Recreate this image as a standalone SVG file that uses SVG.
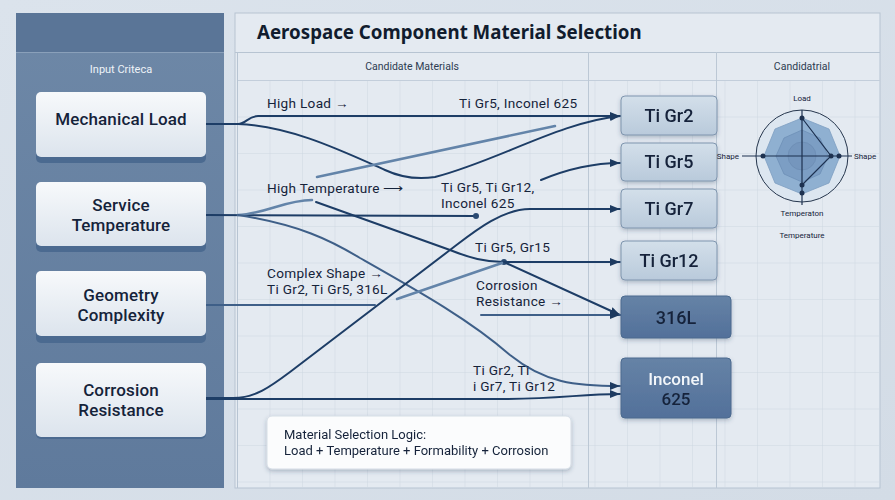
<svg xmlns="http://www.w3.org/2000/svg" width="895" height="500" viewBox="0 0 895 500">
<defs>
<linearGradient id="bg" x1="0" y1="0" x2="1" y2="1"><stop offset="0" stop-color="#dbe3ec"/><stop offset="1" stop-color="#d3dce6"/></linearGradient>
<linearGradient id="lnode" x1="0" y1="0" x2="0" y2="1"><stop offset="0" stop-color="#f7f9fb"/><stop offset="1" stop-color="#dce4ed"/></linearGradient>
<linearGradient id="rnode" x1="0" y1="0" x2="0" y2="1"><stop offset="0" stop-color="#d3dfea"/><stop offset="1" stop-color="#b9cadb"/></linearGradient>
<linearGradient id="dnode" x1="0" y1="0" x2="0" y2="1"><stop offset="0" stop-color="#6683a6"/><stop offset="1" stop-color="#52709a"/></linearGradient>
<linearGradient id="lpanel" x1="0" y1="0" x2="0" y2="1"><stop offset="0" stop-color="#6e88a7"/><stop offset="1" stop-color="#5f7a9c"/></linearGradient>
<pattern id="grid" x="237" y="80" width="32.5" height="36.5" patternUnits="userSpaceOnUse"><path d="M0,0 V36.5 M0,0 H32.5" fill="none" stroke="#cdd7e2" stroke-width="1"/></pattern>
<filter id="sh" x="-10%" y="-10%" width="120%" height="140%"><feDropShadow dx="0" dy="2" stdDeviation="2" flood-color="#2a4060" flood-opacity="0.3"/></filter>
<marker id="ar" markerUnits="userSpaceOnUse" markerWidth="10" markerHeight="10" refX="10" refY="5" orient="auto"><path d="M0,1 L10,5 L0,9 z" fill="#1d3a60"/></marker>
</defs>
<style>
.t{font-family:Roboto,"Noto Sans",sans-serif;fill:#15233a}
.lbl{font-size:13.6px;letter-spacing:0.3px}
.ln{font-size:17px;text-anchor:middle;font-weight:500;letter-spacing:0.15px}
.rn{font-size:18px;text-anchor:middle;font-weight:500}
.c{fill:none;stroke-linecap:round}
.dk{stroke:#1d3d66;stroke-width:2}
.md{stroke:#3e5f88;stroke-width:2}
.lt{stroke:#6384a9;stroke-width:2.5}
.rd{font-size:8px;text-anchor:middle}
</style>
<rect width="895" height="500" fill="url(#bg)"/>
<!-- left panel -->
<rect x="16" y="13" width="208" height="475" fill="url(#lpanel)"/>
<rect x="16" y="13" width="208" height="39" fill="#5a7597"/>
<line x1="16" y1="52.5" x2="224" y2="52.5" stroke="#8aa0ba" stroke-width="1"/>
<text class="t" x="121" y="73" font-size="11" text-anchor="middle" style="fill:#eef3f8">Input Criteca</text>
<!-- main panel -->
<rect x="235" y="13" width="645" height="475" fill="#e4eaf1" stroke="#b7c4d2"/>
<rect x="237" y="80" width="643" height="408" fill="url(#grid)"/>
<line x1="235" y1="52.5" x2="880" y2="52.5" stroke="#b7c4d2"/>
<line x1="237" y1="80.5" x2="880" y2="80.5" stroke="#c3cedb"/>
<line x1="237.5" y1="52" x2="237.5" y2="488" stroke="#b7c4d2"/>
<line x1="588.5" y1="52" x2="588.5" y2="488" stroke="#bcc8d5"/>
<line x1="716.5" y1="52" x2="716.5" y2="488" stroke="#bcc8d5"/>
<text x="257" y="39" font-family="'Noto Sans',sans-serif" font-size="18.7" font-weight="700" fill="#111c2e">Aerospace Component Material Selection</text>
<text class="t" x="412" y="70" font-size="10.5" text-anchor="middle" style="fill:#2d3c52">Candidate Materials</text>
<text class="t" x="802" y="70" font-size="10.5" text-anchor="middle" style="fill:#2d3c52">Candidatrial</text>
<!-- connectors -->
<g id="connectors">
<path class="c dk" d="M206,124 L238,124 C246,124 248,116 258,116 L620,116" marker-end="url(#ar)"/>
<path class="c dk" d="M238,124 C290,126 340,150 385,170 C400,177 415,180 435,177 C495,162 560,122 620,116" marker-end="url(#ar)"/>
<path class="c lt" d="M317,177 L555,126"/>
<path class="c dk" d="M541,180 C565,170 590,163 620,163" marker-end="url(#ar)"/>
<path class="c dk" d="M206,215 L476,216"/>
<circle cx="476" cy="216" r="3" fill="#2a4a72"/>
<path class="c lt" d="M238,215 C265,214 285,200 312,200"/>
<path class="c dk" d="M316,202 L450,250 C470,258 485,262 504,262"/>
<circle cx="504" cy="262" r="3" fill="#2a4a72"/>
<path class="c dk" d="M504,262 L620,262" marker-end="url(#ar)"/>
<path class="c dk" d="M506,263 L620,315" marker-end="url(#ar)"/>
<path class="c md" d="M238,215 C300,225 330,240 360,258 C420,292 470,320 510,355 C545,383 575,386 620,386" marker-end="url(#ar)"/>
<path class="c md" d="M206,305 L375,305"/>
<path class="c lt" d="M397,299 L502,263"/>
<path class="c dk" d="M206,398 L233,398 C255,398 270,387 290,372 L450,250 C470,235 500,209 530,209 L620,209" marker-end="url(#ar)"/>
<path class="c md" d="M481,315 L620,315" marker-end="url(#ar)"/>
<path class="c dk" d="M206,399 L500,399 C560,399 580,394 620,394" marker-end="url(#ar)"/>
</g>
<!-- connector labels -->
<text class="t lbl" x="267" y="108">High Load →</text>
<text class="t lbl" x="459" y="108">Ti Gr5, Inconel 625</text>
<text class="t lbl" x="267" y="193">High Temperature ⟶</text>
<text class="t lbl" x="441" y="192"><tspan x="441">Ti Gr5, Ti Gr12,</tspan><tspan x="441" dy="16">Inconel 625</tspan></text>
<text class="t lbl" x="475" y="252">Ti Gr5, Gr15</text>
<text class="t lbl" x="267" y="278"><tspan x="267">Complex Shape →</tspan><tspan x="267" dy="16">Ti Gr2, Ti Gr5, 316L</tspan></text>
<text class="t lbl" x="476" y="290"><tspan x="476">Corrosion</tspan><tspan x="476" dy="16">Resistance →</tspan></text>
<text class="t lbl" x="473" y="375"><tspan x="473">Ti Gr2, Ti</tspan><tspan x="473" dy="16">i Gr7, Ti Gr12</tspan></text>
<!-- left nodes -->
<g id="n-mech"><rect x="36" y="97" width="170" height="66" rx="5" fill="#4b6a90"/><rect x="36" y="92" width="170" height="65" rx="5" fill="url(#lnode)"/><text class="t ln" x="121" y="125">Mechanical Load</text></g>
<g id="n-temp"><rect x="36" y="187" width="170" height="65" rx="5" fill="#4b6a90"/><rect x="36" y="182" width="170" height="64" rx="5" fill="url(#lnode)"/><text class="t ln" x="121" y="211"><tspan x="121">Service</tspan><tspan x="121" dy="20">Temperature</tspan></text></g>
<g id="n-geom"><rect x="36" y="276" width="170" height="67" rx="5" fill="#4b6a90"/><rect x="36" y="271" width="170" height="65" rx="5" fill="url(#lnode)"/><text class="t ln" x="121" y="301"><tspan x="121">Geometry</tspan><tspan x="121" dy="20">Complexity</tspan></text></g>
<g id="n-corr"><rect x="36" y="366" width="170" height="73" rx="5" fill="#4b6a90"/><rect x="36" y="363" width="170" height="74" rx="5" fill="url(#lnode)"/><text class="t ln" x="121" y="396"><tspan x="121">Corrosion</tspan><tspan x="121" dy="20">Resistance</tspan></text></g>
<!-- right nodes -->
<g id="n-gr2" filter="url(#sh)"><rect x="621" y="96" width="96" height="39" rx="4" fill="url(#rnode)" stroke="#7f95ae"/><text class="t rn" x="669" y="122">Ti Gr2</text></g>
<g id="n-gr5" filter="url(#sh)"><rect x="621" y="143" width="96" height="38" rx="4" fill="url(#rnode)" stroke="#7f95ae"/><text class="t rn" x="669" y="168">Ti Gr5</text></g>
<g id="n-gr7" filter="url(#sh)"><rect x="621" y="189" width="96" height="39" rx="4" fill="url(#rnode)" stroke="#7f95ae"/><text class="t rn" x="669" y="215">Ti Gr7</text></g>
<g id="n-gr12" filter="url(#sh)"><rect x="621" y="241" width="96" height="39" rx="4" fill="url(#rnode)" stroke="#7f95ae"/><text class="t rn" x="669" y="267">Ti Gr12</text></g>
<g id="n-316l" filter="url(#sh)"><rect x="621" y="296" width="110" height="42" rx="4" fill="url(#dnode)" stroke="#4c6a8f"/><text class="t rn" x="676" y="324">316L</text></g>
<g id="n-inc" filter="url(#sh)"><rect x="621" y="358" width="110" height="60" rx="4" fill="url(#dnode)" stroke="#4c6a8f"/><text class="t rn" x="676" y="385" style="font-size:17px"><tspan x="676" style="fill:#f2f6fa">Inconel</tspan><tspan x="676" dy="20">625</tspan></text></g>
<!-- legend -->
<g id="legend" filter="url(#sh)"><rect x="267" y="416" width="304" height="53" rx="5" fill="#fbfcfd" stroke="#d5dde6"/><text class="t" x="284" y="439" font-size="13"><tspan x="284">Material Selection Logic:</tspan><tspan x="284" dy="16">Load + Temperature + Formability + Corrosion</tspan></text></g>
<!-- radar -->
<g id="radar">
<circle cx="802" cy="156" r="46" fill="#dce6f0" stroke="#26364d" stroke-width="1"/>
<polygon points="802,118 829,129 840,156 829,183 802,194 775,183 764,156 775,129" fill="#8fb0d1" stroke="#7d9ec2" stroke-width="0.8"/>
<polygon points="802,130 820,138 828,156 820,174 802,182 784,174 776,156 784,138" fill="#7c9ec4" stroke="#6d8fb6" stroke-width="0.8"/>
<circle cx="802" cy="156" r="14" fill="#7596bd" stroke="#6a8ab0" stroke-width="0.6"/>
<line x1="742" y1="156" x2="852" y2="156" stroke="#1d3150" stroke-width="1.2"/>
<line x1="802" y1="110" x2="802" y2="205" stroke="#1d3150" stroke-width="1.2"/>
<polyline points="802,118 831,156 802,185" fill="none" stroke="#1d3150" stroke-width="1.2"/>
<g fill="#1d3150"><circle cx="802" cy="118" r="2.5"/><circle cx="831" cy="156" r="2.5"/><circle cx="839" cy="156" r="2.5"/><circle cx="802" cy="185" r="2.5"/><circle cx="802" cy="193" r="2.5"/><circle cx="763" cy="156" r="2.5"/></g>
<text class="t rd" x="802" y="101">Load</text>
<text class="t rd" x="739" y="159" style="text-anchor:end">Shape</text>
<text class="t rd" x="865" y="159">Shape</text>
<text class="t rd" x="802" y="216">Temperaton</text>
<text class="t rd" x="802" y="238" font-size="8.5">Temperature</text>
</g>
</svg>
